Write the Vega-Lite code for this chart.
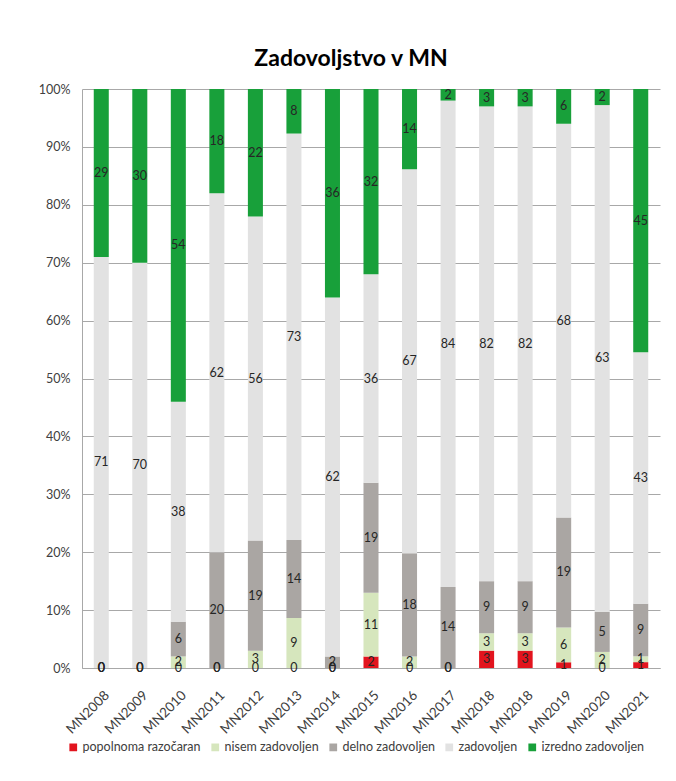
{
  "$schema": "https://vega.github.io/schema/vega-lite/v6.json",
  "autosize": {"type": "none"},
  "width": 578,
  "height": 579,
  "padding": {"left": 82, "top": 89, "right": 16, "bottom": 113},
  "background": "white",
  "title": {"text": "Zadovoljstvo v MN", "font": "Lato", "fontSize": 23, "fontWeight": "bold", "color": "#000000", "dx": -20, "offset": 12},
  "data": {"values": [
    {"g": "MN2008", "popolnoma razočaran": 0, "nisem zadovoljen": 0, "delno zadovoljen": 0, "zadovoljen": 71, "izredno zadovoljen": 29},
    {"g": "MN2009", "popolnoma razočaran": 0, "nisem zadovoljen": 0, "delno zadovoljen": 0, "zadovoljen": 70, "izredno zadovoljen": 30},
    {"g": "MN2010", "popolnoma razočaran": 0, "nisem zadovoljen": 2, "delno zadovoljen": 6, "zadovoljen": 38, "izredno zadovoljen": 54},
    {"g": "MN2011", "popolnoma razočaran": 0, "nisem zadovoljen": 0, "delno zadovoljen": 20, "zadovoljen": 62, "izredno zadovoljen": 18},
    {"g": "MN2012", "popolnoma razočaran": 0, "nisem zadovoljen": 3, "delno zadovoljen": 19, "zadovoljen": 56, "izredno zadovoljen": 22},
    {"g": "MN2013", "popolnoma razočaran": 0, "nisem zadovoljen": 9, "delno zadovoljen": 14, "zadovoljen": 73, "izredno zadovoljen": 8},
    {"g": "MN2014", "popolnoma razočaran": 0, "nisem zadovoljen": 0, "delno zadovoljen": 2, "zadovoljen": 62, "izredno zadovoljen": 36},
    {"g": "MN2015", "popolnoma razočaran": 2, "nisem zadovoljen": 11, "delno zadovoljen": 19, "zadovoljen": 36, "izredno zadovoljen": 32},
    {"g": "MN2016", "popolnoma razočaran": 0, "nisem zadovoljen": 2, "delno zadovoljen": 18, "zadovoljen": 67, "izredno zadovoljen": 14},
    {"g": "MN2017", "popolnoma razočaran": 0, "nisem zadovoljen": 0, "delno zadovoljen": 14, "zadovoljen": 84, "izredno zadovoljen": 2},
    {"g": "MN2018a", "popolnoma razočaran": 3, "nisem zadovoljen": 3, "delno zadovoljen": 9, "zadovoljen": 82, "izredno zadovoljen": 3},
    {"g": "MN2018b", "popolnoma razočaran": 3, "nisem zadovoljen": 3, "delno zadovoljen": 9, "zadovoljen": 82, "izredno zadovoljen": 3},
    {"g": "MN2019", "popolnoma razočaran": 1, "nisem zadovoljen": 6, "delno zadovoljen": 19, "zadovoljen": 68, "izredno zadovoljen": 6},
    {"g": "MN2020", "popolnoma razočaran": 0, "nisem zadovoljen": 2, "delno zadovoljen": 5, "zadovoljen": 63, "izredno zadovoljen": 2},
    {"g": "MN2021", "popolnoma razočaran": 1, "nisem zadovoljen": 1, "delno zadovoljen": 9, "zadovoljen": 43, "izredno zadovoljen": 45}
  ]},
  "transform": [
    {"fold": ["popolnoma razočaran", "nisem zadovoljen", "delno zadovoljen", "zadovoljen", "izredno zadovoljen"], "as": ["cat", "v"]},
    {"calculate": "indexof(['popolnoma razočaran', 'nisem zadovoljen', 'delno zadovoljen', 'zadovoljen', 'izredno zadovoljen'], datum.cat)", "as": "ord"},
    {"stack": "v", "groupby": ["g"], "sort": [{"field": "ord", "order": "ascending"}], "offset": "normalize", "as": ["y0", "y1"]},
    {"calculate": "(datum.y0 + datum.y1) / 2", "as": "mid"}
  ],
  "encoding": {
    "x": {"field": "g", "type": "nominal", "sort": null, "title": null,
      "scale": {"paddingInner": 0.61, "paddingOuter": 0.305},
      "axis": {"labelExpr": "slice(datum.label, 0, 6)", "labelAngle": -45, "labelAlign": "right", "labelBaseline": "top", "labelPadding": 20, "labelOffset": 1, "labelFont": "Lato", "labelFontSize": 13.5, "labelColor": "#404040", "ticks": false, "domainColor": "#a8a8a8", "domainWidth": 1.2, "grid": false}
    }
  },
  "layer": [
    {
      "mark": {"type": "bar"},
      "encoding": {
        "y": {"field": "y0", "type": "quantitative", "scale": {"domain": [0, 1], "nice": false},
          "axis": {"values": [0, 0.1, 0.2, 0.3, 0.4, 0.5, 0.6, 0.7, 0.8, 0.9, 1], "format": ".0%", "title": null, "labelFont": "Lato", "labelFontSize": 12.5, "labelColor": "#404040", "labelPadding": 12, "ticks": false, "domain": true, "domainColor": "#a8a8a8", "gridColor": "#a8a8a8", "gridWidth": 1}
        },
        "y2": {"field": "y1"},
        "color": {"field": "cat", "type": "nominal",
          "scale": {"domain": ["popolnoma razočaran", "nisem zadovoljen", "delno zadovoljen", "zadovoljen", "izredno zadovoljen"], "range": ["#e2141e", "#d6e6bd", "#aaa6a3", "#e2e2e2", "#18a03a"]},
          "legend": {"title": null, "orient": "none", "legendX": -15, "legendY": 652, "direction": "horizontal", "symbolType": "square", "symbolSize": 60, "symbolStrokeWidth": 0, "labelFont": "Lato", "labelFontSize": 12.5, "labelColor": "#404040", "columnPadding": 8, "labelOffset": 3}
        }
      }
    },
    {
      "mark": {"type": "text", "font": "Lato", "fontSize": 12.5, "color": "#262626", "baseline": "middle"},
      "encoding": {
        "y": {"field": "mid", "type": "quantitative"},
        "text": {"field": "v", "type": "quantitative"}
      }
    }
  ],
  "config": {"view": {"stroke": null}}
}
